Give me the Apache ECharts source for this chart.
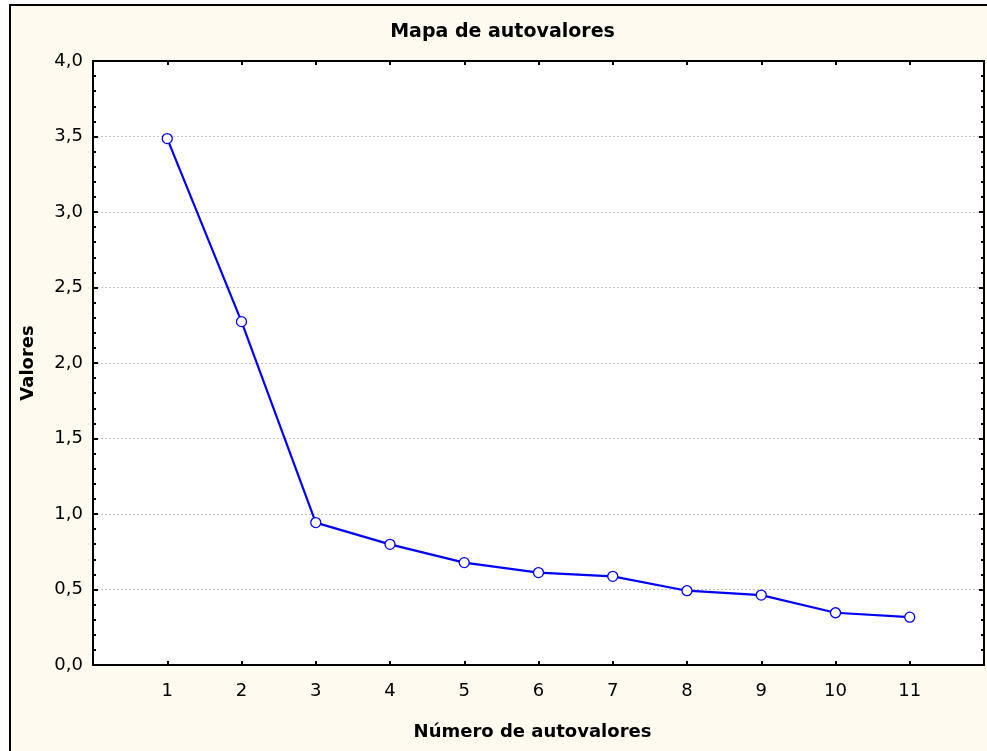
<!DOCTYPE html>
<html>
<head>
<meta charset="utf-8">
<script src="https://cdn.jsdelivr.net/npm/echarts@6/dist/echarts.min.js"></script>
<style>
  html, body { margin: 0; padding: 0; background: #ffffff; }
  #chart { width: 987px; height: 751px; }
</style>
</head>
<body>
<div id="chart"></div>
<script>
// Data
const categories = [1, 2, 3, 4, 5, 6, 7, 8, 9, 10, 11];
const eigenvalues = [3.486, 2.274, 0.943, 0.799, 0.678, 0.612, 0.587, 0.492, 0.463, 0.346, 0.317];
const yTicks = [0, 0.5, 1.0, 1.5, 2.0, 2.5, 3.0, 3.5, 4.0];

const titleText = 'Mapa de autovalores';
const xName = 'Número de autovalores';
const yName = 'Valores';

const chart = echarts.init(document.getElementById('chart'), null, { renderer: 'canvas' });

const seriesData = categories.map((c, i) => [c, eigenvalues[i]]);
const fmtY = v => v.toFixed(1).replace('.', ',');
const labelFont = { fontFamily: 'DejaVu Sans', fontSize: 18, color: '#000' };
const nameFont = { fontFamily: 'DejaVu Sans', fontWeight: 'bold', fontSize: 18, color: '#000' };

const option = {
  animation: false,
  backgroundColor: '#ffffff',
  graphic: [
    {
      type: 'rect', z: -10, silent: true,
      shape: { x: 10, y: 5, width: 1000, height: 800 },
      style: { fill: '#fffaf0', stroke: '#000', lineWidth: 2 }
    },
    {
      type: 'text', z: 10, silent: true,
      style: {
        text: titleText, x: 502.5, y: 32, textAlign: 'center', textVerticalAlign: 'middle',
        font: 'bold 19px "DejaVu Sans"', fill: '#000'
      }
    }
  ],
  grid: {
    left: 93, right: 2, top: 61, bottom: 86,
    show: true, backgroundColor: '#ffffff', borderWidth: 0
  },
  xAxis: [
    {
      type: 'value', position: 'bottom', min: 0, max: 12, interval: 1,
      name: xName, nameLocation: 'middle', nameGap: 58,
      nameTextStyle: Object.assign({ padding: [0, 12, 0, 0] }, nameFont),
      axisLine: { show: true, onZero: false, lineStyle: { color: '#000', width: 2 } },
      axisTick: { show: true, inside: true, length: 4, lineStyle: { color: '#000', width: 2 } },
      axisLabel: Object.assign({
        margin: 17,
        formatter: v => (categories.indexOf(v) >= 0 ? String(v) : '')
      }, labelFont),
      splitLine: { show: false }
    },
    {
      type: 'value', position: 'top', min: 0, max: 12, interval: 1,
      axisLine: { show: true, onZero: false, lineStyle: { color: '#000', width: 2 } },
      axisTick: { show: true, inside: true, length: 4, lineStyle: { color: '#000', width: 2 } },
      axisLabel: { show: false },
      splitLine: { show: false }
    }
  ],
  yAxis: [
    {
      type: 'value', position: 'left', min: yTicks[0], max: yTicks[yTicks.length - 1], interval: 0.5,
      name: yName, nameLocation: 'middle', nameGap: 56, nameRotate: 90,
      nameTextStyle: nameFont,
      axisLine: { show: true, onZero: false, lineStyle: { color: '#000', width: 2 } },
      axisTick: { show: true, inside: true, length: 5, lineStyle: { color: '#000', width: 2 } },
      minorTick: { show: true, splitNumber: 5, length: 3, lineStyle: { color: '#000', width: 2 } },
      axisLabel: Object.assign({ margin: 10, formatter: fmtY }, labelFont),
      splitLine: { show: true, lineStyle: { color: '#c4c4c4', type: [2, 2], width: 1 } }
    },
    {
      type: 'value', position: 'right', min: yTicks[0], max: yTicks[yTicks.length - 1], interval: 0.5,
      axisLine: { show: true, onZero: false, lineStyle: { color: '#000', width: 2 } },
      axisTick: { show: true, inside: true, length: 5, lineStyle: { color: '#000', width: 2 } },
      minorTick: { show: true, splitNumber: 5, length: 3, lineStyle: { color: '#000', width: 2 } },
      axisLabel: { show: false },
      splitLine: { show: false }
    }
  ],
  series: [
    {
      type: 'line',
      xAxisIndex: 0, yAxisIndex: 0,
      data: seriesData,
      symbol: 'circle', symbolSize: 10,
      lineStyle: { color: '#0000ff', width: 2.2 },
      itemStyle: { color: '#ffffff', borderColor: '#0000ff', borderWidth: 1.3 },
      z: 5
    }
  ]
};

chart.setOption(option);
</script>
</body>
</html>
